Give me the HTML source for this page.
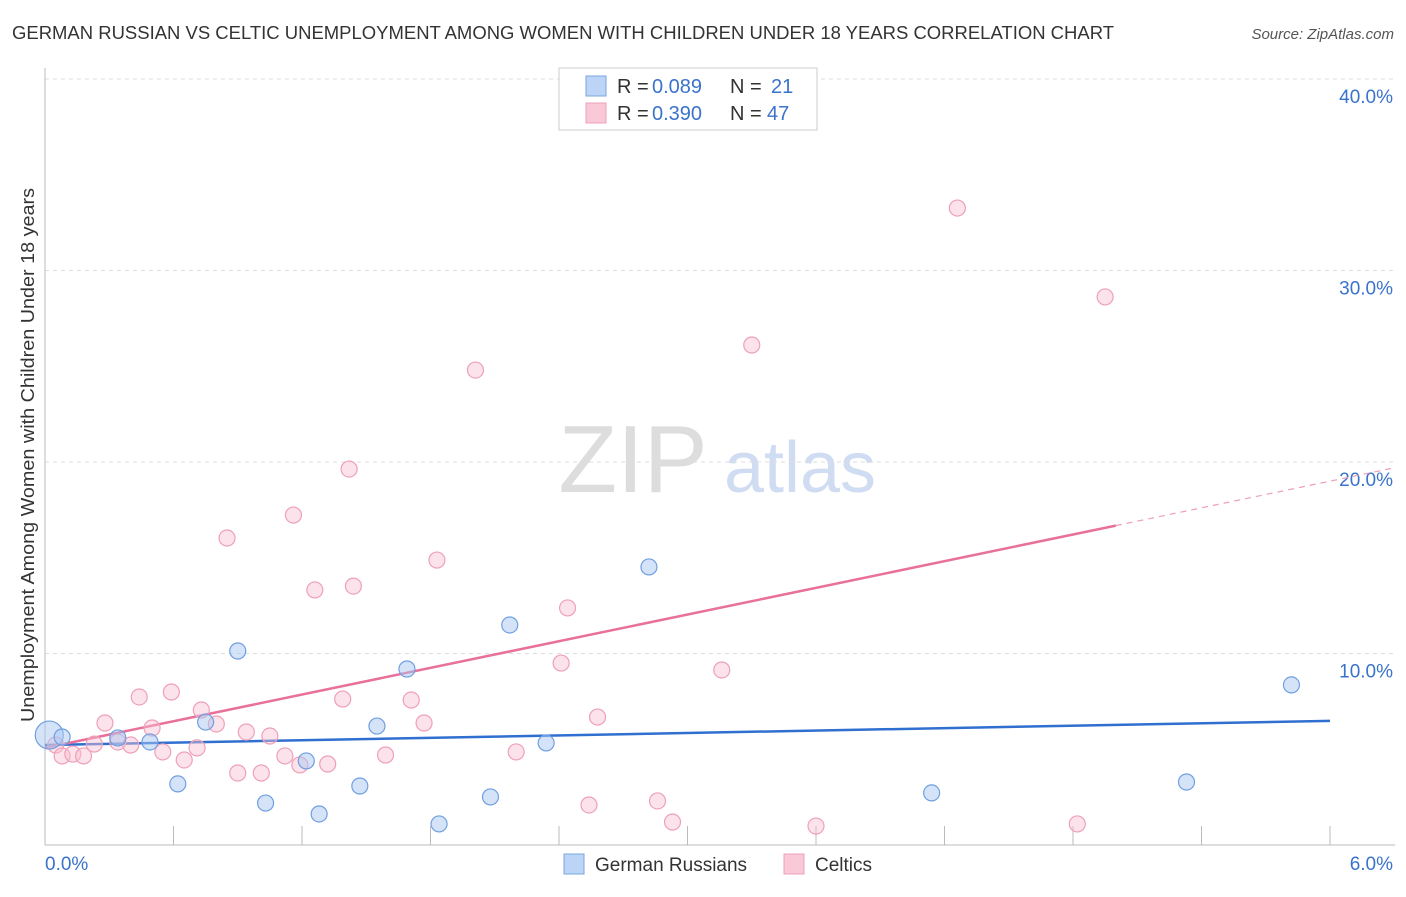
<!DOCTYPE html>
<html><head><meta charset="utf-8"><style>
body{margin:0;background:#fff;font-family:"Liberation Sans",sans-serif}
svg text{font-family:"Liberation Sans",sans-serif}
</style></head><body>
<svg id="chart" width="1406" height="892" xmlns="http://www.w3.org/2000/svg">
<text x="12" y="39" font-size="18" fill="#333" textLength="1102" lengthAdjust="spacingAndGlyphs">GERMAN RUSSIAN VS CELTIC UNEMPLOYMENT AMONG WOMEN WITH CHILDREN UNDER 18 YEARS CORRELATION CHART</text>
<text x="1394" y="39" font-size="15" fill="#555" font-style="italic" text-anchor="end">Source: ZipAtlas.com</text>
<text x="633" y="492" font-size="96" fill="#ddd" font-family="Liberation Serif" text-anchor="middle">ZIP</text>
<text x="800" y="492" font-size="72" fill="#cfdcf2" text-anchor="middle">atlas</text>
<text transform="translate(34,455) rotate(-90)" font-size="18" fill="#333" text-anchor="middle" textLength="534" lengthAdjust="spacingAndGlyphs">Unemployment Among Women with Children Under 18 years</text>
<g id="grid"></g><g id="ticks"></g><g id="lines"></g><g id="pts"></g>
<g>
<rect x="559" y="68" width="258" height="62" fill="#fff" stroke="#ccc"/>
<rect x="586" y="76" width="20" height="20" fill="#bcd4f5" stroke="#7aa6e0"/>
<rect x="586" y="103" width="20" height="20" fill="#f9c9d7" stroke="#eea0b8"/>
<text x="617" y="93" font-size="20" fill="#333">R =</text>
<text x="652" y="93" font-size="20" fill="#3a73cc">0.089</text>
<text x="730" y="93" font-size="20" fill="#333">N =</text>
<text x="771" y="93" font-size="20" fill="#3a73cc">21</text>
<text x="617" y="120" font-size="20" fill="#333">R =</text>
<text x="652" y="120" font-size="20" fill="#3a73cc">0.390</text>
<text x="730" y="120" font-size="20" fill="#333">N =</text>
<text x="767" y="120" font-size="20" fill="#3a73cc">47</text>
</g>
<g>
<rect x="564" y="854" width="20" height="20" fill="#bcd4f5" stroke="#7aa6e0"/>
<text x="595" y="871" font-size="19" fill="#333">German Russians</text>
<rect x="784" y="854" width="20" height="20" fill="#f9c9d7" stroke="#eea0b8"/>
<text x="815" y="871" font-size="19" fill="#333">Celtics</text>
</g>
</svg>
<script>
const yTicks=[10,20,30,40];
const yTickLabels=["10.0%","20.0%","30.0%","40.0%"];
const xTickLabels=["0.0%","6.0%"];
const blueX=[0.02,0.08,0.34,0.49,0.62,0.75,0.90,1.03,1.22,1.28,1.47,1.55,1.69,1.84,2.08,2.17,2.34,2.82,4.14,5.33,5.82];
const blueY=[5.74,5.64,5.59,5.38,3.19,6.42,10.13,2.19,4.39,1.62,3.08,6.21,9.19,1.10,2.51,11.49,5.33,14.52,2.72,3.29,8.36];
const pinkX=[0.05,0.08,0.13,0.18,0.23,0.28,0.34,0.40,0.44,0.50,0.55,0.59,0.65,0.71,0.73,0.80,0.85,0.90,0.94,1.01,1.05,1.12,1.16,1.19,1.26,1.32,1.39,1.42,1.44,1.59,1.71,1.77,1.83,2.01,2.20,2.41,2.44,2.54,2.58,2.86,2.93,3.16,3.30,3.60,4.26,4.82,4.95];
const pinkY=[5.22,4.65,4.75,4.65,5.27,6.37,5.38,5.22,7.73,6.11,4.86,7.99,4.44,5.07,7.05,6.32,16.03,3.76,5.90,3.76,5.69,4.65,17.23,4.18,13.32,4.23,7.62,19.63,13.52,4.70,7.57,6.37,14.88,24.80,4.86,9.50,12.38,2.09,6.68,2.30,1.20,9.14,26.11,0.99,33.26,1.10,28.62];
const blueTrend=[5.22,6.48];
const pinkTrend=[5.07,19.0];
const NS="http://www.w3.org/2000/svg";
const X=v=>45+v*1285/6, Y=v=>845-v*19.15;
function mk(p,t,a){const e=document.createElementNS(NS,t);for(const k in a)e.setAttribute(k,a[k]);document.getElementById(p).appendChild(e);return e;}
yTicks.forEach((t,i)=>{
 let l=mk('grid','line',{x1:45,x2:1395,y1:Y(t),y2:Y(t),stroke:'#ddd','stroke-dasharray':'4,4'});
 
 
 let tx=mk('grid','text',{x:1393,y:Y(t)+24,'font-size':19,fill:'#3a73cc','text-anchor':'end'});tx.textContent=yTickLabels[i];
 
 
});
mk('ticks','line',{x1:45,x2:1395,y1:845,y2:845,stroke:'#bbb'});
mk('ticks','line',{x1:45,x2:45,y1:68,y2:845,stroke:'#bbb'});
for(let i=0;i<=10;i++){let t=mk('ticks','line',{x1:X(i*0.6),x2:X(i*0.6),y1:826,y2:845,stroke:'#bbb'});
 
 }
let a=mk('ticks','text',{x:45,y:870,'font-size':19,fill:'#3a73cc'});a.textContent=xTickLabels[0];


let b=mk('ticks','text',{x:1393,y:870,'font-size':19,fill:'#3a73cc','text-anchor':'end'});b.textContent=xTickLabels[1];


function dot(x,y,r,fill,st,name){let c=mk('pts','circle',{cx:X(x),cy:Y(y),r:r,fill:fill,stroke:st,'stroke-width':1.2});
 
 }
pinkX.forEach((x,i)=>dot(x,pinkY[i],8,'rgba(248,190,208,0.45)','#eea0b8','celtics-point'));
blueX.forEach((x,i)=>dot(x,blueY[i],i==0?14:8,'rgba(170,200,242,0.5)','#6f9fe0','german-russians-point'));
let bl=mk('lines','line',{x1:X(0),y1:Y(blueTrend[0]),x2:X(6),y2:Y(blueTrend[1]),stroke:'#2f6fd0','stroke-width':2.5});


const pAt=x=>pinkTrend[0]+(pinkTrend[1]-pinkTrend[0])*x/6;
let pl=mk('lines','line',{x1:X(0),y1:Y(pAt(0)),x2:X(5),y2:Y(pAt(5)),stroke:'#e8709a','stroke-width':2.5});


let pd=mk('lines','line',{x1:X(5),y1:Y(pAt(5)),x2:X(6.3),y2:Y(pAt(6.3)),stroke:'#eea0b8','stroke-width':1.2,'stroke-dasharray':'6,5'});


</script>
</body></html>
